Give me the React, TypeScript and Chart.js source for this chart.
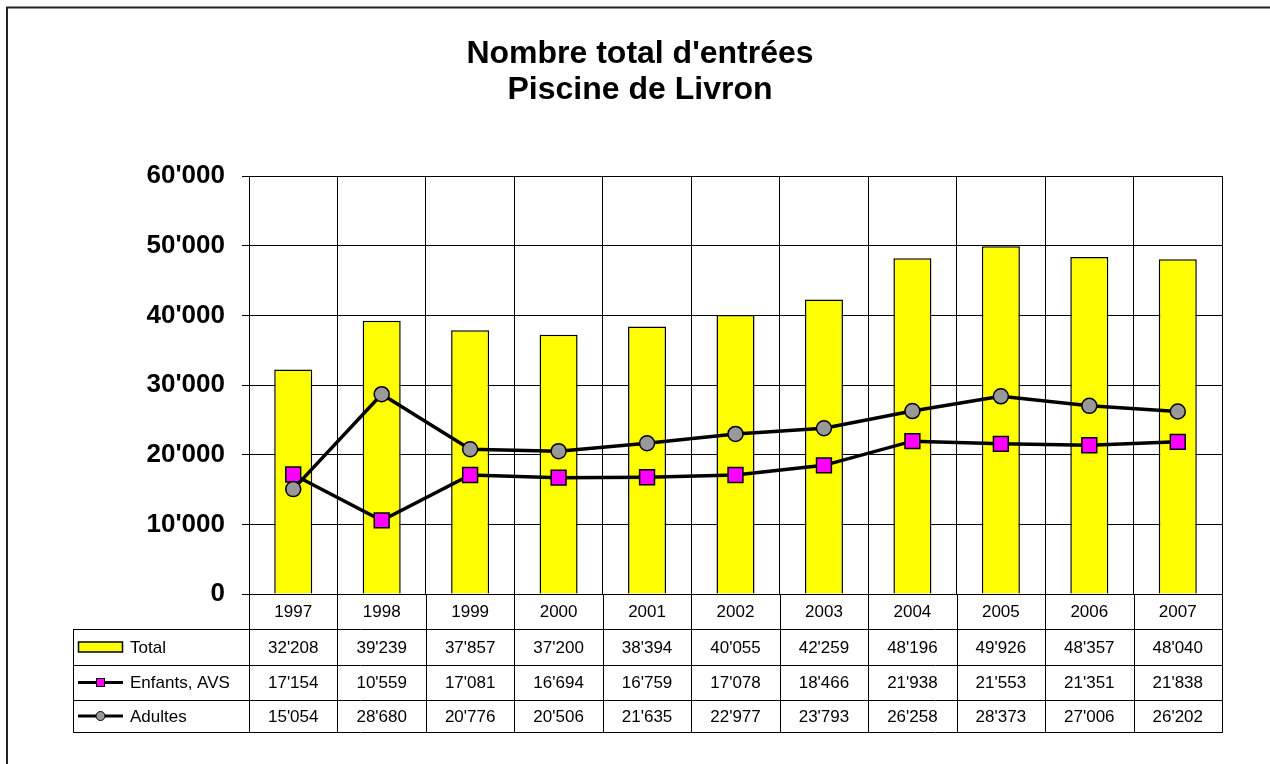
import React, { useEffect, useRef } from "react";
import { Chart, registerables } from "chart.js";

Chart.register(...registerables);

const years = ["1997", "1998", "1999", "2000", "2001", "2002", "2003", "2004", "2005", "2006", "2007"];
const total = [32208, 39239, 37857, 37200, 38394, 40055, 42259, 48196, 49926, 48357, 48040];
const enfants = [17154, 10559, 17081, 16694, 16759, 17078, 18466, 21938, 21553, 21351, 21838];
const adultes = [15054, 28680, 20776, 20506, 21635, 22977, 23793, 26258, 28373, 27006, 26202];
const seriesNames = ["Total", "Enfants, AVS", "Adultes"];
const titleLines = ["Nombre total d'entrées", "Piscine de Livron"];

const FONT = '"Liberation Sans", Arial, sans-serif';

function fmt(v: number): string {
  if (v < 1000) return String(v);
  const th = Math.floor(v / 1000);
  const rest = String(v % 1000).padStart(3, "0");
  return `${th}'${rest}`;
}

const framePlugin = {
  id: "frame",
  beforeDraw(chart: any) {
    const ctx = chart.ctx;
    ctx.save();
    ctx.fillStyle = "#fff";
    ctx.fillRect(0, 0, chart.width, chart.height);
    ctx.strokeStyle = "#222";
    ctx.lineWidth = 2;
    ctx.beginPath();
    ctx.moveTo(7, chart.height + 5);
    ctx.lineTo(7, 7.5);
    ctx.lineTo(chart.width + 5, 7.5);
    ctx.stroke();
    ctx.restore();
  },
};

const tablePlugin = {
  id: "dataTable",
  afterDraw(chart: any) {
    const ctx = chart.ctx;
    const area = chart.chartArea;
    const n = years.length;
    const cw = (area.right - area.left) / n;
    const top = area.bottom;
    const rows = [top, top + 35, top + 71, top + 106, top + 138];
    const tableLeft = 73;
    ctx.save();
    ctx.strokeStyle = "#000";
    ctx.lineWidth = 1;
    for (let i = 0; i <= n; i++) {
      const x = Math.round(area.left + i * cw) + 0.5;
      ctx.beginPath();
      ctx.moveTo(x, top);
      ctx.lineTo(x, rows[4]);
      ctx.stroke();
    }
    ctx.beginPath();
    ctx.moveTo(tableLeft + 0.5, rows[1]);
    ctx.lineTo(tableLeft + 0.5, rows[4]);
    ctx.stroke();
    for (let r = 1; r <= 4; r++) {
      const y = Math.round(rows[r]) + 0.5;
      ctx.beginPath();
      ctx.moveTo(tableLeft, y);
      ctx.lineTo(area.right + 1, y);
      ctx.stroke();
    }
    ctx.fillStyle = "#000";
    ctx.font = `17px ${FONT}`;
    ctx.textAlign = "center";
    ctx.textBaseline = "middle";
    const xs = chart.scales.x;
    const data = [total, enfants, adultes];
    for (let i = 0; i < n; i++) {
      const cx = xs.getPixelForValue(i);
      ctx.fillText(years[i], cx, (rows[0] + rows[1]) / 2 + 1);
      for (let s = 0; s < 3; s++) {
        ctx.fillText(fmt(data[s][i]), cx, (rows[s + 1] + rows[s + 2]) / 2 + 1);
      }
    }
    ctx.textAlign = "left";
    for (let s = 0; s < 3; s++) {
      const cy = (rows[s + 1] + rows[s + 2]) / 2;
      ctx.fillStyle = "#000";
      ctx.fillText(seriesNames[s], 130, cy + 1);
      if (s === 0) {
        ctx.fillStyle = "#FFFF00";
        ctx.fillRect(78.5, cy - 5, 44, 10);
        ctx.strokeStyle = "#000";
        ctx.lineWidth = 1.5;
        ctx.strokeRect(78.5, cy - 5, 44, 10);
      } else {
        ctx.strokeStyle = "#000";
        ctx.lineWidth = 3;
        ctx.beginPath();
        ctx.moveTo(78, cy);
        ctx.lineTo(123, cy);
        ctx.stroke();
        ctx.lineWidth = 1;
        if (s === 1) {
          ctx.fillStyle = "#FF00FF";
          ctx.fillRect(96.5, cy - 4, 8, 8);
          ctx.strokeRect(96.5, cy - 4, 8, 8);
        } else {
          ctx.fillStyle = "#999999";
          ctx.beginPath();
          ctx.arc(100.5, cy, 4.5, 0, Math.PI * 2);
          ctx.fill();
          ctx.stroke();
        }
      }
    }
    ctx.restore();
  },
};

export default function App() {
  const ref = useRef<HTMLCanvasElement>(null);
  useEffect(() => {
    if (!ref.current) return;
    const chart = new Chart(ref.current, {
      type: "bar",
      data: {
        labels: years,
        datasets: [
          {
            type: "bar",
            label: seriesNames[0],
            data: total,
            backgroundColor: "#FFFF00",
            borderColor: "#000",
            borderWidth: 1.5,
            categoryPercentage: 1,
            barPercentage: 0.43,
            order: 3,
          },
          {
            type: "line",
            label: seriesNames[1],
            data: enfants,
            borderColor: "#000",
            borderWidth: 3.5,
            pointStyle: "rect",
            pointRadius: 10.5,
            pointBackgroundColor: "#FF00FF",
            pointBorderColor: "#000",
            pointBorderWidth: 1.5,
            tension: 0,
            order: 2,
          },
          {
            type: "line",
            label: seriesNames[2],
            data: adultes,
            borderColor: "#000",
            borderWidth: 3.5,
            pointStyle: "circle",
            pointRadius: 7.5,
            pointBackgroundColor: "#999999",
            pointBorderColor: "#000",
            pointBorderWidth: 1.5,
            tension: 0,
            order: 1,
          },
        ] as any,
      },
      options: {
        responsive: false,
        animation: false,
        layout: { padding: { left: 58, right: 48, top: 0, bottom: 170 } },
        plugins: {
          legend: { display: false },
          tooltip: { enabled: false },
          title: {
            display: true,
            text: titleLines,
            color: "#000",
            font: { family: FONT, size: 32, weight: "bold", lineHeight: 1.125 },
            padding: { top: 36, bottom: 68 },
          },
        },
        scales: {
          x: {
            offset: true,
            grid: { color: "#000", lineWidth: 1, drawTicks: false, offset: true },
            border: { display: true, color: "#000" },
            ticks: { display: false },
            afterFit: (s: any) => {
              s.height = 0;
            },
          },
          y: {
            min: 0,
            max: 60000,
            grid: { color: "#000", lineWidth: 1, tickLength: 7, drawTicks: true },
            border: { display: true, color: "#000" },
            ticks: {
              stepSize: 10000,
              padding: 17,
              color: "#000",
              font: { family: FONT, size: 26, weight: "bold" },
              callback: (v: any) => fmt(Number(v)),
            },
            afterFit: (s: any) => {
              s.width = 191;
            },
          },
        },
      },
      plugins: [framePlugin, tablePlugin],
    });
    return () => chart.destroy();
  }, []);
  return (
    <div style={{ position: "absolute", left: 0, top: 0, width: 1270, height: 764 }}>
      <canvas ref={ref} width={1270} height={764} style={{ display: "block" }} />
    </div>
  );
}
